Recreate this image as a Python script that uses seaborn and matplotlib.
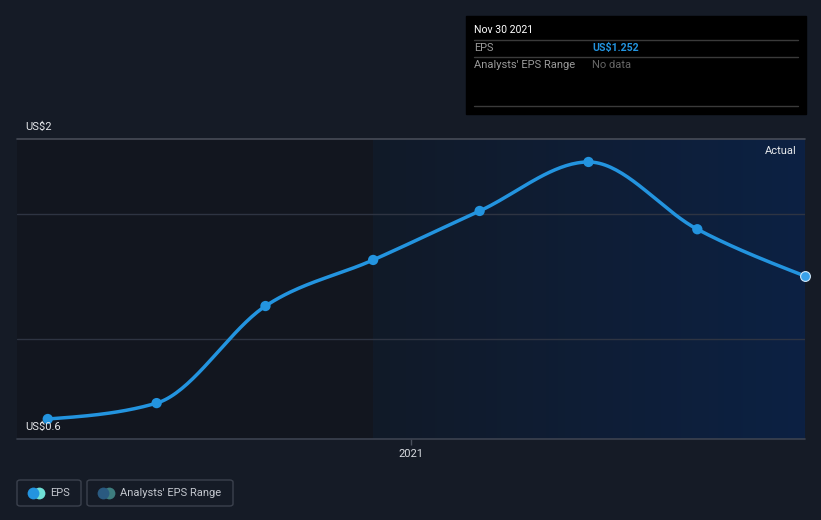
import numpy as np
import pandas as pd
import matplotlib
matplotlib.use("Agg")
import matplotlib.pyplot as plt
import matplotlib.dates as mdates
from matplotlib.patches import FancyBboxPatch
from matplotlib.colors import LinearSegmentedColormap
import seaborn as sns

# ---- data ----
dates = ["2020-02-29", "2020-05-31", "2020-08-31", "2020-11-30",
         "2021-02-28", "2021-05-31", "2021-08-31", "2021-11-30"]
eps = [0.470, 0.557, 1.088, 1.340, 1.608, 1.876, 1.508, 1.252]
y_labels = ["US$2", "US$0.6"]
x_tick_label = "2021"
tooltip_date = "Nov 30 2021"
tooltip_eps = "US$1.252"

BG = "#151b26"
LINE = "#2394df"

sns.set_theme(style="dark")
plt.rcParams['font.family'] = ['Roboto', 'DejaVu Sans']

df = pd.DataFrame({"date": pd.to_datetime(dates), "eps": eps})
df["x"] = mdates.date2num(df["date"])

# monotone cubic (d3 curveMonotoneX style) for the line shape
def monotone_curve(x, y, n=40):
    x = np.asarray(x, float); y = np.asarray(y, float)
    m = len(x)
    h = np.diff(x); s = np.diff(y) / h
    t = np.zeros(m)
    for i in range(1, m - 1):
        p = (s[i-1] * h[i] + s[i] * h[i-1]) / (h[i-1] + h[i])
        t[i] = (np.sign(s[i-1]) + np.sign(s[i])) * min(abs(s[i-1]), abs(s[i]), 0.5 * abs(p))
    t[0] = (3 * s[0] - t[1]) / 2
    t[-1] = (3 * s[-1] - t[-2]) / 2
    xs, ys = [], []
    for i in range(m - 1):
        u = np.linspace(0, 1, n)
        h00 = 2*u**3 - 3*u**2 + 1; h10 = u**3 - 2*u**2 + u
        h01 = -2*u**3 + 3*u**2; h11 = u**3 - u**2
        xs.append(x[i] + u * h[i])
        ys.append(h00*y[i] + h10*h[i]*t[i] + h01*y[i+1] + h11*h[i]*t[i+1])
    return np.concatenate(xs), np.concatenate(ys)

cx, cy = monotone_curve(df["x"], df["eps"])
curve = pd.DataFrame({"x": cx, "y": cy})

W, H = 821, 520
fig = plt.figure(figsize=(W/100, H/100), dpi=100, facecolor=BG)

def px(x0, y0, x1, y1):
    return [x0/W, 1 - y1/H, (x1-x0)/W, (y1-y0)/H]

ax = fig.add_axes(px(17, 139.3, 805, 439.3))
ax.set_facecolor("#12161f")

x_left = df["x"].iloc[0] - 26
x_right = df["x"].iloc[-1]
y_bot, y_top = 0.359, 2.0
ax.set_xlim(x_left, x_right)
ax.set_ylim(y_bot, y_top)

# highlighted last-year region with gradient
grad = np.linspace(0, 1, 256).reshape(1, -1)
cmap = LinearSegmentedColormap.from_list("g", ["#111a28", "#0c2143"])
ax.imshow(grad, extent=[df["x"].iloc[3], x_right, y_bot, y_top], aspect="auto",
          cmap=cmap, zorder=0.5)

# gridlines
for gy in [1.59, 0.906]:
    ax.axhline(gy, color="#2e3442", lw=1, zorder=1)
ax.axhline(y_top, color="#474c57", lw=1.2, zorder=1, clip_on=False)
ax.axhline(y_bot, color="#3c4250", lw=1.2, zorder=1, clip_on=False)

sns.lineplot(data=curve, x="x", y="y", ax=ax, color=LINE, lw=2.5, zorder=3,
             estimator=None, sort=False)
sns.scatterplot(data=df.iloc[:-1], x="x", y="eps", ax=ax, color=LINE, s=55,
                edgecolor="none", zorder=4)
sns.scatterplot(data=df.iloc[-1:], x="x", y="eps", ax=ax, color="#3aa2ea", s=50,
                edgecolor="#cfe6f7", linewidth=0.8, zorder=5, clip_on=False)

for sp in ax.spines.values():
    sp.set_visible(False)
ax.set_xlabel(""); ax.set_ylabel("")
ax.set_yticks([])
tick_x = mdates.date2num(pd.Timestamp("2021-01-01"))
ax.set_xticks([tick_x])
ax.set_xticklabels([x_tick_label], color="#d8dbe0", fontsize=8)
ax.tick_params(axis="x", length=4, width=1, color="#4a505c", pad=3, bottom=True)
ax.grid(False)

# y labels as text
fig.text(25/W, 1 - 127/H, y_labels[0], color="#e6e8eb", fontsize=8, va="center", ha="left")
fig.text(25/W, 1 - 427/H, y_labels[1], color="#e6e8eb", fontsize=8, va="center", ha="left")
fig.text(797/W, 1 - 151/H, "Actual", color="#e6e8eb", fontsize=8, va="center", ha="right")

# tooltip box
fig.patches.append(plt.Rectangle((466/W, 1 - 114/H), (806-466)/W, (114-16)/H,
                                 transform=fig.transFigure, color="#000000", zorder=5))
for ly in [40, 57, 106]:
    fig.add_artist(plt.Line2D([474/W, 798/W], [1 - ly/H]*2, color="#3a3a3a", lw=1,
                              transform=fig.transFigure, zorder=6))
fig.text(474/W, 1 - 30/H, tooltip_date, color="#ffffff", fontsize=7.6, va="center", zorder=7)
fig.text(474/W, 1 - 48/H, "EPS", color="#9a9a9a", fontsize=7.9, va="center", zorder=7)
fig.text(592/W, 1 - 48/H, tooltip_eps, color=LINE, fontsize=7.6, va="center",
         fontweight="bold", zorder=7)
fig.text(474/W, 1 - 65/H, "Analysts' EPS Range", color="#9a9a9a", fontsize=8.0,
         va="center", zorder=7)
fig.text(592/W, 1 - 65/H, "No data", color="#666666", fontsize=8.0, va="center", zorder=7)

# legend buttons
def button(x0, x1, c1, c2, label):
    fig.patches.append(FancyBboxPatch((x0/W, 1 - 506/H), (x1-x0)/W, 26/H,
                                      boxstyle="round,pad=0,rounding_size=0.004",
                                      transform=fig.transFigure, facecolor="none",
                                      edgecolor="#3b414d", lw=1))
    cxp = x0 + 16
    for dx, c in [(6, c2), (0, c1)]:
        fig.add_artist(plt.Line2D([(cxp+dx)/W], [1 - 493/H], marker="o", ms=8.5,
                                  color=c, mec="none", transform=fig.transFigure))
    fig.text((x0 + 33)/W, 1 - 493/H, label, color="#c3c7ce", fontsize=8, va="center")

button(17, 81, LINE, "#6fe0d6", "EPS")
button(87, 233, "#2a5a80", "#3d7d7e", "Analysts' EPS Range")

fig.savefig("out.png", dpi=100, facecolor=BG)
